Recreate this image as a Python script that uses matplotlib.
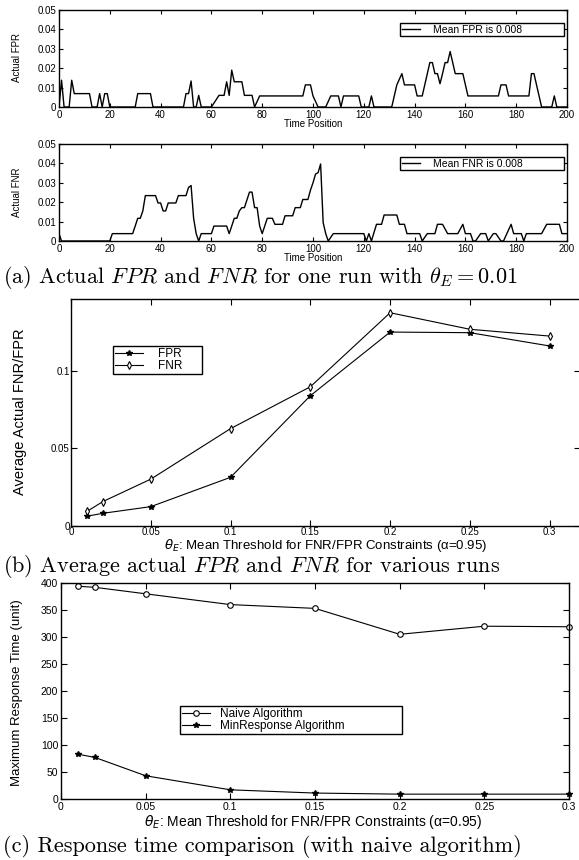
import matplotlib
matplotlib.use('Agg')
from matplotlib import pyplot as plt

W, H = 579, 860

# (a) one run, vertices of the FPR / FNR traces (time position, value)
fpr_t = [0, 1, 2, 4, 5, 6, 12, 13, 15, 16, 17, 18, 19, 20, 30, 31, 36, 37,
         49, 50, 51, 52, 53, 54, 55, 56, 60, 63, 65, 66, 67, 68, 69, 72, 73,
         76, 77, 79, 96, 97, 99, 100, 102, 105, 107, 110, 111, 112, 118, 119,
         122, 123, 124, 131, 132, 133, 135, 136, 140, 141, 143, 144, 146, 147,
         148, 149, 150, 151, 152, 153, 154, 155, 156, 159, 161, 173, 174, 176,
         177, 185, 186, 187, 188, 189, 190, 194, 195, 196, 200]
fpr_v = [0, 0.0138, 0, 0, 0.0138, 0.0069, 0.0069, 0, 0, 0.0069, 0, 0.0069,
         0.0069, 0, 0, 0.0069, 0.0069, 0, 0, 0.0069, 0.0069, 0.0134, 0, 0,
         0.0060, 0, 0, 0.0060, 0.0060, 0.0130, 0.0060, 0.0190, 0.0130, 0.0130,
         0.0060, 0.0060, 0, 0.0057, 0.0057, 0.0114, 0.0114, 0.0057, 0, 0,
         0.0057, 0.0057, 0, 0.0057, 0.0057, 0, 0, 0.0057, 0, 0, 0.0057,
         0.0114, 0.0172, 0.0114, 0.0114, 0.0057, 0.0057, 0.0114, 0.0229,
         0.0229, 0.0172, 0.0172, 0.0120, 0.0172, 0.0229, 0.0229, 0.0286,
         0.0229, 0.0172, 0.0172, 0.0057, 0.0057, 0.0114, 0.0114, 0.0057,
         0.0057, 0.0172, 0.0172, 0.0114, 0.0057, 0, 0, 0.0057, 0, 0]
fnr_t = [0, 1, 20, 21, 29, 30, 31, 32, 33, 34, 38, 39, 40, 41, 42, 43, 46,
         47, 50, 51, 52, 53, 54, 55, 56, 60, 61, 66, 67, 68, 69, 70, 71, 72,
         73, 75, 76, 77, 78, 79, 80, 82, 84, 85, 88, 89, 92, 93, 95, 96, 98,
         99, 100, 101, 102, 103, 104, 105, 106, 108, 120, 121, 122, 123, 125,
         127, 128, 133, 134, 136, 137, 142, 143, 145, 148, 149, 151, 153, 157,
         159, 160, 162, 163, 164, 166, 168, 169, 171, 172, 174, 175, 178, 179,
         182, 183, 184, 190, 192, 197, 198, 200]
fnr_v = [0.0038, 0, 0, 0.0038, 0.0038, 0.0077, 0.0117, 0.0117, 0.0155,
         0.0234, 0.0234, 0.0196, 0.0196, 0.0155, 0.0155, 0.0196, 0.0196,
         0.0234, 0.0234, 0.0276, 0.0286, 0.0117, 0.0038, 0, 0.0038, 0.0038,
         0.0077, 0.0077, 0.0038, 0.0077, 0.0117, 0.0117, 0.0155, 0.0172,
         0.0172, 0.0252, 0.0252, 0.0172, 0.0172, 0.0077, 0.0038, 0.0117,
         0.0117, 0.0086, 0.0086, 0.0130, 0.0130, 0.0172, 0.0172, 0.0214,
         0.0214, 0.0262, 0.0300, 0.0345, 0.0352, 0.0397, 0.0095, 0.0038, 0,
         0.0038, 0.0038, 0, 0.0038, 0, 0.0086, 0.0086, 0.0134, 0.0134,
         0.0086, 0.0086, 0.0038, 0.0038, 0, 0.0038, 0.0038, 0.0086, 0.0086,
         0.0038, 0.0038, 0.0086, 0.0038, 0.0038, 0, 0, 0.0038, 0.0038, 0,
         0.0038, 0.0038, 0, 0, 0.0086, 0.0038, 0.0038, 0, 0.0038, 0.0038,
         0.0086, 0.0086, 0.0038, 0.0038]
fpr_mean = 'Mean FPR is 0.008'
fnr_mean = 'Mean FNR is 0.008'
time_ticks = [0, 20, 40, 60, 80, 100, 120, 140, 160, 180, 200]
rate_ticks = [0, 0.01, 0.02, 0.03, 0.04, 0.05]
rate_labels = ['0', '0.01', '0.02', '0.03', '0.04', '0.05']

# (b) and (c) share the threshold axis
theta = [0.01, 0.02, 0.05, 0.1, 0.15, 0.2, 0.25, 0.3]
theta_ticks = [0, 0.05, 0.1, 0.15, 0.2, 0.25, 0.3]
theta_labels = ['0', '0.05', '0.1', '0.15', '0.2', '0.25', '0.3']
avg_fpr = [0.0060, 0.0079, 0.0122, 0.0312, 0.0840, 0.1252, 0.1248, 0.1162]
avg_fnr = [0.0091, 0.0155, 0.0300, 0.0627, 0.0898, 0.1377, 0.1270, 0.1226]
avg_ticks = [0, 0.05, 0.1]
avg_labels = ['0', '0.05', '0.1']
naive = [394, 392, 380, 360, 353, 305, 320, 319]
minresp = [83, 77, 43, 17, 11, 9, 9, 9]
resp_ticks = [0, 50, 100, 150, 200, 250, 300, 350, 400]

captions = [r'(a) Actual $FPR$ and $FNR$ for one run with $\theta_E = 0.01$',
            r'(b) Average actual $FPR$ and $FNR$ for various runs',
            r'(c) Response time comparison (with naive algorithm)']
theta_xlabel = r'$\theta_E$: Mean Threshold for FNR/FPR Constraints (α=0.95)'

plt.rcParams['font.family'] = ['Liberation Sans', 'DejaVu Sans']
narrow = ['Liberation Sans Narrow', 'Liberation Sans']

fig = plt.figure(figsize=(W / 100, H / 100), dpi=100)


def axes_px(l, t, r, b):
    ax = fig.add_axes([l / W, 1 - b / H, (r - l) / W, (b - t) / H])
    ax.rect_px = (l, t, r, b)
    for s in ax.spines.values():
        s.set_linewidth(1.0)
    return ax


def to_ax(ax, x, y):
    l, t, r, b = ax.rect_px
    return (x - l) / (r - l), (b - y) / (b - t)


def labels(ax, xl, xpos, yl, ypos, xsize, ysize):
    ax.set_xlabel(xl, fontsize=xsize, va='center')
    ax.xaxis.set_label_coords(*to_ax(ax, *xpos))
    ax.set_ylabel(yl, fontsize=ysize, va='center', family=narrow)
    ax.yaxis.set_label_coords(*to_ax(ax, *ypos))


def box_legend(ax, l, t, r, b, size, hl, tp):
    leg = ax.legend(loc='upper left', bbox_to_anchor=(l / W, 1 - t / H, (r - l) / W, (t - b) / H),
                    bbox_transform=fig.transFigure, mode='expand', borderaxespad=0,
                    fancybox=False, framealpha=1, edgecolor='black', fontsize=size,
                    handlelength=hl, borderpad=0.15, labelspacing=0.05, handletextpad=tp)
    leg.get_frame().set_linewidth(1.0)
    return leg


# ---- (a) time series
for i, (tt, vv, lab, yl) in enumerate([(fpr_t, fpr_v, fpr_mean, 'Actual FPR'),
                                       (fnr_t, fnr_v, fnr_mean, 'Actual FNR')]):
    top = 10 + 134 * i
    ax = axes_px(59, top, 567, top + 97)
    ax.plot(tt, vv, color='black', lw=1.0, label=lab)
    ax.set_xlim(0, 200)
    ax.set_ylim(0, 0.05)
    ax.set_xticks(time_ticks)
    ax.set_yticks(rate_ticks)
    ax.set_yticklabels(rate_labels)
    ax.tick_params(direction='in', top=True, right=True, length=3, width=0.8,
                   labelsize=7, pad=2)
    labels(ax, 'Time Position', (313, top + 114), yl, (17.5, top + 48), 7, 7)
    box_legend(ax, 400, top + 2, 564, top + 13, 7.5, 1.8, 1.2)

# ---- (b) average actual FPR/FNR
ax = axes_px(71, 299, 580, 525.5)
ax.plot(theta, avg_fpr, color='black', lw=0.8, marker='*', ms=4, label='FPR')
ax.plot(theta, avg_fnr, color='black', lw=0.8, marker='d', ms=4, mfc='white',
        mew=0.8, label='FNR')
ax.set_xlim(0, 0.319)
ax.set_ylim(0, 0.1466)
ax.set_xticks(theta_ticks)
ax.set_xticklabels(theta_labels)
ax.set_yticks(avg_ticks)
ax.set_yticklabels(avg_labels)
ax.tick_params(direction='in', top=True, right=True, length=4, width=0.8,
               labelsize=7, pad=1)
labels(ax, theta_xlabel, (326, 546), 'Average Actual FNR/FPR', (20, 412), 9.5, 10.5)
box_legend(ax, 113, 320, 202, 346, 8.5, 2.4, 1.3)

# ---- (c) response time
ax = axes_px(61, 583, 569, 799)
ax.plot(theta, naive, color='black', lw=0.8, marker='o', ms=4, mfc='white',
        mew=0.8, label='Naive Algorithm', clip_on=False)
ax.plot(theta, minresp, color='black', lw=0.8, marker='*', ms=4,
        label='MinResponse Algorithm', clip_on=False)
ax.set_xlim(0, 0.3)
ax.set_ylim(0, 400)
ax.set_xticks(theta_ticks)
ax.set_xticklabels(theta_labels)
ax.set_yticks(resp_ticks)
ax.tick_params(direction='in', top=True, right=True, length=4, width=0.8,
               labelsize=7.5, pad=2)
labels(ax, theta_xlabel, (313, 822), 'Maximum Response Time (unit)', (17.5, 693), 10, 9.5)
box_legend(ax, 180, 685, 402, 706, 8.5, 2.4, 0.8)

# ---- captions
for y, cap in zip([283, 572, 852], captions):
    fig.text(3 / W, 1 - y / H, cap, fontsize=16, family='cmr10',
             math_fontfamily='cm', va='baseline', ha='left')

fig.savefig('out.png', dpi=100)
